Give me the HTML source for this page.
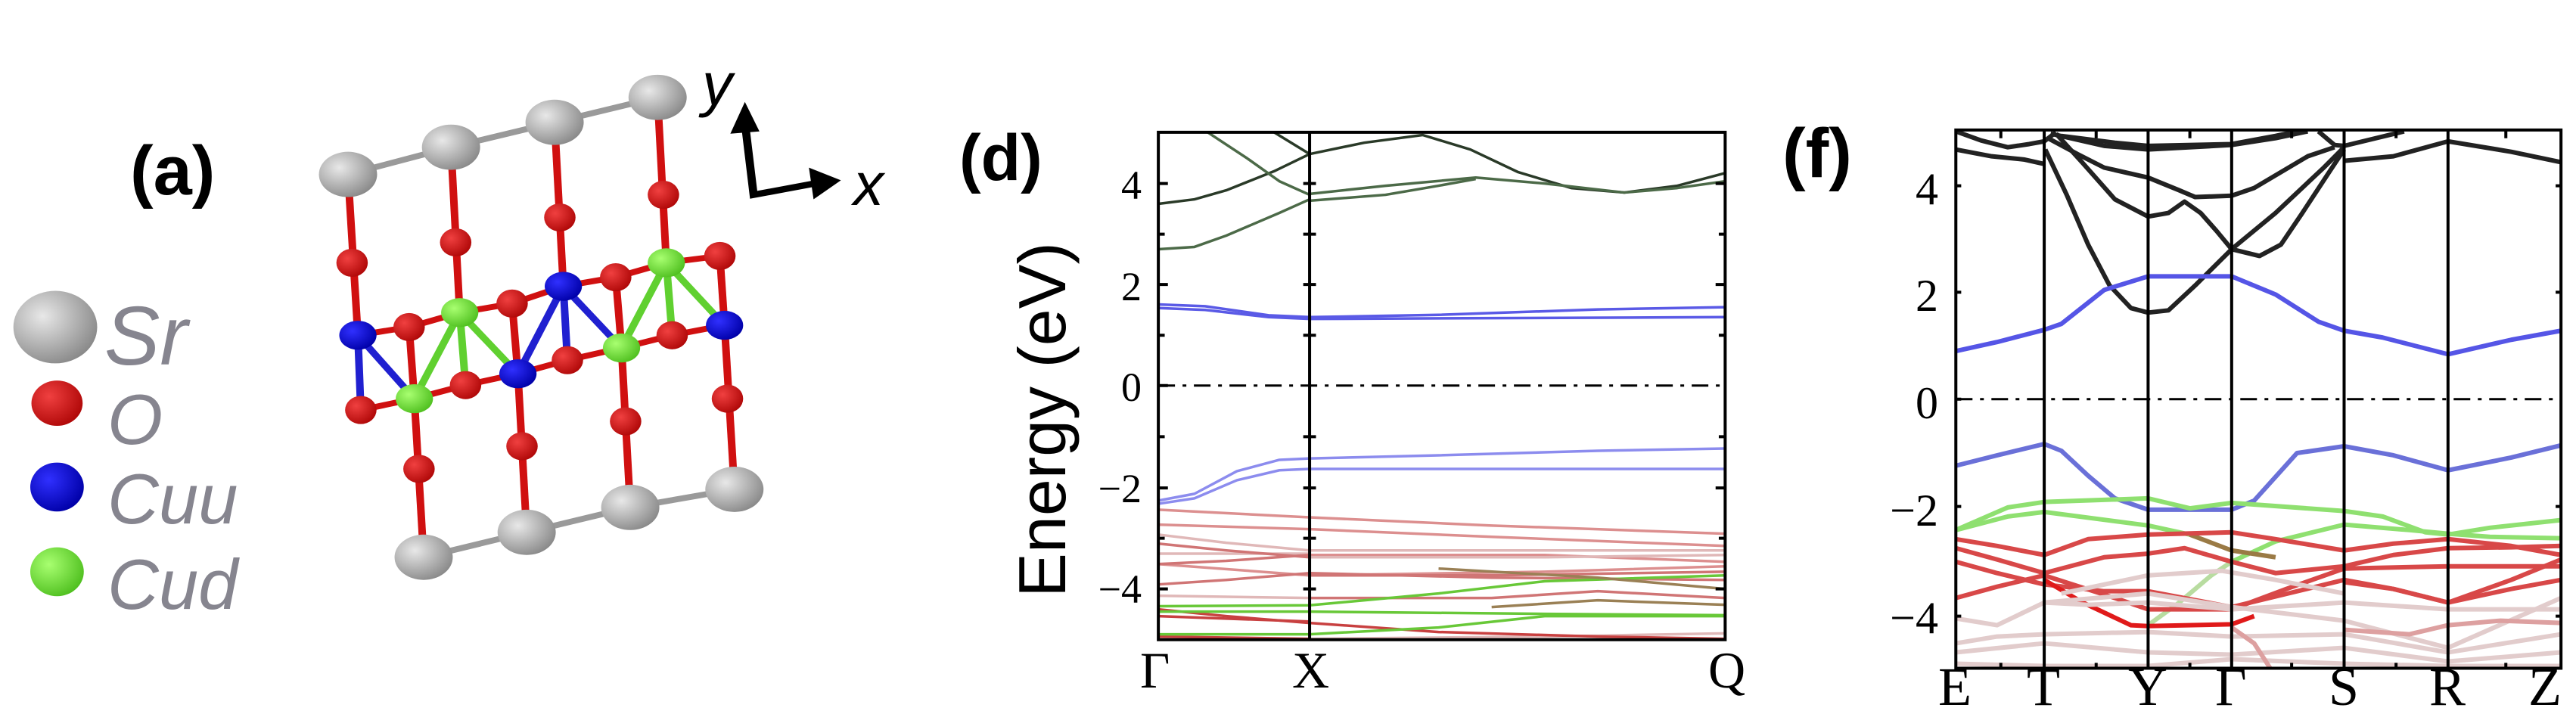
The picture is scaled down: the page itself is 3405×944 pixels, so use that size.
<!DOCTYPE html>
<html><head><meta charset="utf-8"><style>
html,body{margin:0;padding:0;background:#fff;}
#c{position:relative;width:3405px;height:944px;overflow:hidden;background:#fff;}
svg{position:absolute;}
.t{position:absolute;white-space:nowrap;line-height:1;}
.ser{font-family:"Liberation Serif",serif;color:#000;}
.b{font-family:"Liberation Sans",sans-serif;font-weight:bold;color:#000;}
.lg{font-family:"Liberation Sans",sans-serif;font-style:italic;color:#86858f;}
</style></head><body><div id="c">

<!-- Panel a -->
<svg style="left:0;top:0" width="1200" height="944" viewBox="0 0 1560 1576" preserveAspectRatio="none">
<defs>
<radialGradient id="gs" cx="0.35" cy="0.35" r="0.7"><stop offset="0" stop-color="#e8e8e8"/><stop offset="1" stop-color="#8a8a8a"/></radialGradient>
<radialGradient id="go" cx="0.35" cy="0.35" r="0.7"><stop offset="0" stop-color="#f04040"/><stop offset="1" stop-color="#b00808"/></radialGradient>
<radialGradient id="gb" cx="0.35" cy="0.35" r="0.7"><stop offset="0" stop-color="#3030ff"/><stop offset="1" stop-color="#0000a8"/></radialGradient>
<radialGradient id="gg" cx="0.35" cy="0.35" r="0.7"><stop offset="0" stop-color="#a8ff70"/><stop offset="1" stop-color="#50c020"/></radialGradient>
</defs>
<g stroke-width="13" fill="none">
<polyline points="598,385 775,325 953,270 1130,215" stroke="#9a9a9a"/>
<polyline points="728,1230 905,1175 1083,1120 1262,1080" stroke="#9a9a9a"/>
<line x1="598" y1="385" x2="615" y2="740" stroke="#d01010"/>
<line x1="775" y1="325" x2="790" y2="690" stroke="#d01010"/>
<line x1="953" y1="270" x2="968" y2="632" stroke="#d01010"/>
<line x1="1130" y1="215" x2="1145" y2="580" stroke="#d01010"/>
<line x1="712" y1="880" x2="728" y2="1230" stroke="#d01010"/>
<line x1="890" y1="825" x2="905" y2="1175" stroke="#d01010"/>
<line x1="1068" y1="768" x2="1083" y2="1120" stroke="#d01010"/>
<line x1="1245" y1="718" x2="1262" y2="1080" stroke="#d01010"/>
<line x1="703" y1="722" x2="712" y2="880" stroke="#d01010"/>
<line x1="880" y1="670" x2="890" y2="825" stroke="#d01010"/>
<line x1="1058" y1="612" x2="1068" y2="768" stroke="#d01010"/>
<line x1="1237" y1="565" x2="1245" y2="718" stroke="#d01010"/>
<line x1="615" y1="740" x2="620" y2="905" stroke="#2020d0"/>
<line x1="790" y1="690" x2="800" y2="850" stroke="#60d030"/>
<line x1="968" y1="632" x2="975" y2="795" stroke="#2020d0"/>
<line x1="1145" y1="580" x2="1155" y2="740" stroke="#60d030"/>
<polyline points="615,740 703,722 790,690 880,670 968,632 1058,612 1145,580 1237,565" stroke="#d01010"/>
<polyline points="620,905 712,880 800,850 890,825 975,795 1068,768 1155,740 1245,718" stroke="#d01010"/>
<line x1="615" y1="740" x2="712" y2="880" stroke="#2020d0"/>
<line x1="790" y1="690" x2="712" y2="880" stroke="#60d030"/>
<line x1="790" y1="690" x2="890" y2="825" stroke="#60d030"/>
<line x1="968" y1="632" x2="890" y2="825" stroke="#2020d0"/>
<line x1="968" y1="632" x2="1068" y2="768" stroke="#2020d0"/>
<line x1="1145" y1="580" x2="1068" y2="768" stroke="#60d030"/>
<line x1="1145" y1="580" x2="1245" y2="718" stroke="#60d030"/>
</g>
<g fill="url(#gs)">
<circle cx="598" cy="385" r="50"/><circle cx="775" cy="325" r="50"/><circle cx="953" cy="270" r="50"/><circle cx="1130" cy="215" r="50"/>
<circle cx="728" cy="1230" r="50"/><circle cx="905" cy="1175" r="50"/><circle cx="1083" cy="1120" r="50"/><circle cx="1262" cy="1080" r="50"/>
</g>
<g fill="url(#go)">
<ellipse cx="605" cy="580" rx="27" ry="31"/><ellipse cx="783" cy="535" rx="27" ry="31"/><ellipse cx="962" cy="480" rx="27" ry="31"/><ellipse cx="1140" cy="430" rx="27" ry="31"/>
<ellipse cx="720" cy="1035" rx="27" ry="31"/><ellipse cx="897" cy="985" rx="27" ry="31"/><ellipse cx="1075" cy="930" rx="27" ry="31"/><ellipse cx="1250" cy="880" rx="27" ry="31"/>
<ellipse cx="703" cy="722" rx="27" ry="31"/><ellipse cx="880" cy="670" rx="27" ry="31"/><ellipse cx="1058" cy="612" rx="27" ry="31"/><ellipse cx="1237" cy="565" rx="27" ry="31"/>
<ellipse cx="620" cy="905" rx="27" ry="31"/><ellipse cx="800" cy="850" rx="27" ry="31"/><ellipse cx="975" cy="795" rx="27" ry="31"/><ellipse cx="1155" cy="740" rx="27" ry="31"/>
</g>
<g fill="url(#gb)"><circle cx="615" cy="740" r="32"/><circle cx="968" cy="632" r="32"/><circle cx="890" cy="825" r="32"/><circle cx="1245" cy="718" r="32"/></g>
<g fill="url(#gg)"><circle cx="790" cy="690" r="32"/><circle cx="1145" cy="580" r="32"/><circle cx="712" cy="880" r="32"/><circle cx="1068" cy="768" r="32"/></g>
<ellipse cx="95" cy="722" rx="72" ry="80" fill="url(#gs)"/>
<ellipse cx="98" cy="890" rx="44" ry="50" fill="url(#go)"/>
<ellipse cx="98" cy="1075" rx="46" ry="54" fill="url(#gb)"/>
<ellipse cx="98" cy="1262" rx="46" ry="54" fill="url(#gg)"/>
<g stroke="#000" stroke-width="14" fill="none">
<polyline points="1280,270 1295,430 1400,405"/>
</g>
<polygon points="1280,225 1255,295 1305,290" fill="#000"/>
<polygon points="1445,398 1390,370 1398,440" fill="#000"/>
</svg>
<div class="t b" style="left:172px;top:180px;font-size:92px;">(a)</div>
<div class="t lg" style="left:138px;top:390px;font-size:110px;">Sr</div>
<div class="t lg" style="left:142px;top:508px;font-size:94px;">O</div>
<div class="t lg" style="left:142px;top:613px;font-size:94px;">Cuu</div>
<div class="t lg" style="left:142px;top:726px;font-size:94px;">Cud</div>
<div class="t lg" style="left:928px;top:72px;font-size:80px;color:#000;">y</div>
<div class="t lg" style="left:1128px;top:204px;font-size:80px;color:#000;">x</div>

<!-- Panel d -->
<svg style="left:1200px;top:0" width="1100" height="944" viewBox="0 0 1568 1576" preserveAspectRatio="none">
<g fill="none" stroke-width="3.5" vector-effect="non-scaling-stroke" stroke-linejoin="round">
<g stroke="#2a3a28">
<polyline vector-effect="non-scaling-stroke" points="472,450 540,440 600,420 690,378 757,340"/>
<polyline vector-effect="non-scaling-stroke" points="690,292 757,340"/>
<polyline vector-effect="non-scaling-stroke" points="757,340 860,315 970,298 1060,330 1150,380 1250,415 1350,425 1450,410 1540,382"/>
</g>
<g stroke="#4c6a48">
<polyline vector-effect="non-scaling-stroke" points="472,550 540,545 600,520 700,470 757,440"/>
<polyline vector-effect="non-scaling-stroke" points="565,292 640,350 700,400 757,430"/>
<polyline vector-effect="non-scaling-stroke" points="757,428 900,410 1070,392 1200,405 1350,425 1450,415 1540,400"/>
<polyline vector-effect="non-scaling-stroke" points="757,443 900,430 1000,410 1070,395"/>
</g>
<g stroke="#5a5ae6">
<polyline vector-effect="non-scaling-stroke" points="472,672 560,676 680,696 757,700 1000,695 1300,683 1540,678"/>
<polyline vector-effect="non-scaling-stroke" points="472,680 560,684 680,700 757,704 1540,700"/>
</g>
<g stroke="#8c8cee">
<polyline vector-effect="non-scaling-stroke" points="472,1105 540,1090 620,1040 700,1015 757,1012 1000,1005 1300,995 1540,990"/>
<polyline vector-effect="non-scaling-stroke" points="472,1112 540,1100 620,1060 700,1038 757,1035 1540,1035"/>
</g>
<g stroke="#dc8f8f">
<polyline vector-effect="non-scaling-stroke" points="472,1125 757,1142 1100,1160 1540,1178"/>
<polyline vector-effect="non-scaling-stroke" points="472,1158 757,1168 1100,1185 1540,1205"/>
<polyline vector-effect="non-scaling-stroke" points="757,1225 1200,1225 1540,1240"/>
<polyline vector-effect="non-scaling-stroke" points="472,1245 757,1270 1200,1262 1540,1250"/>
</g>
<g stroke="#e0b8b8">
<polyline vector-effect="non-scaling-stroke" points="472,1180 600,1198 757,1215 1540,1215"/>
<polyline vector-effect="non-scaling-stroke" points="472,1222 757,1222"/>
<polyline vector-effect="non-scaling-stroke" points="757,1230 1200,1230 1540,1225"/>
<polyline vector-effect="non-scaling-stroke" points="472,1315 757,1320"/>
<polyline vector-effect="non-scaling-stroke" points="757,1410 1200,1405 1540,1398"/>
</g>
<g stroke="#d07575">
<polyline vector-effect="non-scaling-stroke" points="472,1200 600,1215 757,1230"/>
<polyline vector-effect="non-scaling-stroke" points="472,1245 600,1238 757,1225"/>
<polyline vector-effect="non-scaling-stroke" points="472,1290 600,1280 757,1265 1100,1275 1540,1280"/>
<polyline vector-effect="non-scaling-stroke" points="757,1320 1100,1320 1300,1305 1540,1320"/>
<polyline vector-effect="non-scaling-stroke" points="757,1270 1100,1270 1540,1262"/>
</g>
<g stroke="#c84040">
<polyline vector-effect="non-scaling-stroke" points="472,1345 600,1360 757,1375 1000,1395 1300,1405 1540,1410"/>
<polyline vector-effect="non-scaling-stroke" points="472,1360 757,1372"/>
<polyline vector-effect="non-scaling-stroke" points="472,1405 757,1410"/>
</g>
<g stroke="#68c838">
<polyline vector-effect="non-scaling-stroke" points="472,1338 757,1336 1000,1310 1200,1283 1540,1270"/>
<polyline vector-effect="non-scaling-stroke" points="472,1350 757,1350 1200,1355 1540,1358"/>
<polyline vector-effect="non-scaling-stroke" points="472,1400 757,1400 1000,1385 1200,1360 1540,1360"/>
</g>
<g stroke="#9a8055">
<polyline vector-effect="non-scaling-stroke" points="1000,1255 1300,1275 1540,1300"/>
<polyline vector-effect="non-scaling-stroke" points="1100,1340 1300,1325 1540,1335"/>
</g>
</g>
<line x1="472" y1="851" x2="1540" y2="851" stroke="#000" stroke-width="3" vector-effect="non-scaling-stroke" stroke-dasharray="22 10 5 10"/>
<g stroke="#000" stroke-width="4" vector-effect="non-scaling-stroke" fill="none">
<rect x="472" y="292" width="1068" height="1120" vector-effect="non-scaling-stroke"/>
<line x1="757" y1="292" x2="757" y2="1412" vector-effect="non-scaling-stroke"/>
<path vector-effect="non-scaling-stroke" d="M472 405h18M472 517h12M472 628h18M472 740h12M472 851h18M472 964h12M472 1077h18M472 1188h12M472 1300h18
M1540 405h-18M1540 517h-12M1540 628h-18M1540 740h-12M1540 964h-12M1540 1077h-18M1540 1188h-12M1540 1300h-18
M745 405h24M745 517h24M745 628h24M745 740h24M745 964h24M745 1077h24M745 1188h24M745 1300h24"/>
</g>
</svg>
<div class="t b" style="left:1268px;top:166px;font-size:86px;">(d)</div>
<div class="t ser" style="right:1896px;top:218px;font-size:54px;">4</div>
<div class="t ser" style="right:1896px;top:352px;font-size:54px;">2</div>
<div class="t ser" style="right:1896px;top:485px;font-size:54px;">0</div>
<div class="t ser" style="right:1896px;top:619px;font-size:54px;">−2</div>
<div class="t ser" style="right:1896px;top:752px;font-size:54px;">−4</div>
<div class="t ser" style="left:1507px;top:852px;font-size:68px;">Γ</div>
<div class="t ser" style="left:1708px;top:852px;font-size:68px;">X</div>
<div class="t ser" style="left:2258px;top:852px;font-size:68px;">Q</div>
<div class="t" style="left:1378px;top:555px;font-family:'Liberation Sans',sans-serif;font-size:88px;transform:translate(-50%,-50%) rotate(-90deg);">Energy (eV)</div>

<!-- Panel f -->
<svg style="left:2300px;top:0" width="1105" height="944" viewBox="0 0 1561 1576" preserveAspectRatio="none">
<g fill="none" stroke-width="6" stroke-linejoin="round">
<g stroke="#222">
<polyline vector-effect="non-scaling-stroke" points="403,290 450,310 500,325 540,318 568,312 590,292"/>
<polyline vector-effect="non-scaling-stroke" points="403,330 470,345 530,352 568,362"/>
<polyline vector-effect="non-scaling-stroke" points="580,295 680,322 762,330 918,320 1000,305 1060,290"/>
<polyline vector-effect="non-scaling-stroke" points="600,300 700,315 762,322 918,318 1000,300 1040,290"/>
<polyline vector-effect="non-scaling-stroke" points="570,330 610,430 650,540 690,630 730,680 762,690 800,685 850,630 918,550 1000,470 1090,370 1128,325"/>
<polyline vector-effect="non-scaling-stroke" points="575,305 630,340 680,370 762,392 820,420 850,435 918,432 960,415 1060,345 1110,325"/>
<polyline vector-effect="non-scaling-stroke" points="590,295 640,360 700,440 762,478 800,470 830,445 860,470 890,510 918,550 970,565 1010,540 1050,470 1100,380 1128,330"/>
<polyline vector-effect="non-scaling-stroke" points="1080,290 1110,320 1128,322 1240,290"/>
<polyline vector-effect="non-scaling-stroke" points="1128,355 1220,345 1322,312 1440,335 1533,358"/>
</g>
<polyline vector-effect="non-scaling-stroke" stroke="#5555e6" points="403,775 480,755 568,728 600,715 680,640 762,610 918,610 1000,650 1080,710 1128,730 1200,745 1322,782 1440,750 1533,730"/>
<polyline vector-effect="non-scaling-stroke" stroke="#6a70d8" points="403,1028 480,1005 568,980 600,995 650,1050 700,1100 762,1125 918,1125 960,1105 1040,1000 1128,985 1220,1005 1322,1038 1440,1010 1533,983"/>
<g stroke="#8fe070">
<polyline vector-effect="non-scaling-stroke" points="403,1170 500,1120 568,1108 762,1100 840,1122 918,1110 1128,1128 1200,1140 1280,1175 1322,1180 1400,1165 1533,1148"/>
<polyline vector-effect="non-scaling-stroke" points="403,1170 500,1140 568,1130 762,1160 840,1180"/>
<polyline vector-effect="non-scaling-stroke" points="918,1240 1000,1195 1128,1158 1250,1170 1322,1178 1400,1185 1533,1188"/>
<polyline vector-effect="non-scaling-stroke" stroke="#b8dca0" points="762,1380 820,1330 880,1270 918,1240"/>
</g>
<polyline vector-effect="non-scaling-stroke" stroke="#9a7a45" points="840,1180 918,1215 1000,1230"/>
<g stroke="#d84848">
<polyline vector-effect="non-scaling-stroke" points="403,1190 480,1205 568,1225 650,1190 762,1180 918,1175 1000,1190 1128,1215 1220,1200 1322,1190 1440,1205 1533,1225"/>
<polyline vector-effect="non-scaling-stroke" points="403,1210 480,1235 568,1265 680,1230 762,1222 830,1210 918,1240 1000,1265 1128,1250 1220,1225 1322,1210 1440,1208 1533,1205"/>
<polyline vector-effect="non-scaling-stroke" points="403,1240 480,1265 568,1290 680,1305 762,1305 918,1340 1128,1280 1220,1300 1322,1330 1440,1300 1533,1280"/>
<polyline vector-effect="non-scaling-stroke" points="403,1320 480,1295 568,1270 700,1320 762,1345 918,1345 1020,1300 1128,1255 1322,1250 1533,1250"/>
<polyline vector-effect="non-scaling-stroke" points="1128,1285 1220,1300 1322,1330 1440,1280 1533,1235"/>
<polyline vector-effect="non-scaling-stroke" stroke="#e01a1a" points="568,1280 640,1330 730,1380 762,1382 918,1378 960,1360"/>
</g>
<g stroke="#e2cccc">
<polyline vector-effect="non-scaling-stroke" points="403,1365 480,1380 568,1330 762,1310 918,1340 1128,1370 1322,1430 1533,1320"/>
<polyline vector-effect="non-scaling-stroke" points="403,1420 480,1405 568,1400 762,1395 918,1405 1128,1400 1322,1440 1533,1400"/>
<polyline vector-effect="non-scaling-stroke" points="568,1330 650,1335 762,1330 918,1345 1128,1330 1322,1345 1533,1345"/>
<polyline vector-effect="non-scaling-stroke" points="403,1440 568,1420 762,1440 918,1445 1128,1430 1322,1460 1533,1440"/>
<polyline vector-effect="non-scaling-stroke" points="600,1310 762,1270 900,1260 1000,1280 1128,1310"/>
<polyline vector-effect="non-scaling-stroke" points="403,1465 568,1470 762,1470 918,1455 1128,1465 1322,1470 1533,1470"/>
<polyline vector-effect="non-scaling-stroke" stroke="#dda0a0" points="918,1385 960,1420 990,1475"/>
<polyline vector-effect="non-scaling-stroke" stroke="#dda0a0" points="1128,1390 1250,1400 1322,1380 1420,1370 1533,1375"/>
</g>
</g>
<line x1="403" y1="881" x2="1533" y2="881" stroke="#000" stroke-width="3" vector-effect="non-scaling-stroke" stroke-dasharray="22 10 5 10"/>
<g stroke="#000" stroke-width="4" fill="none">
<rect x="403" y="287" width="1130" height="1188" vector-effect="non-scaling-stroke"/>
<path vector-effect="non-scaling-stroke" d="M568 287V1475M762 287V1475M918 287V1475M1128 287V1475M1322 287V1475"/>
<path vector-effect="non-scaling-stroke" d="M403 410h10M403 645h10M403 881h10M403 1118h10M403 1360h10M1533 410h-10M1533 645h-10M1533 1118h-10M1533 1360h-10M487 287v18M665 287v18M840 287v18M1030 287v18M1225 287v18M1430 287v18M487 1475v-12M665 1475v-12M840 1475v-12M1030 1475v-12M1225 1475v-12M1430 1475v-12"/>
</g>
</svg>
<div class="t b" style="left:2356px;top:157px;font-size:92px;">(f)</div>
<div class="t ser" style="right:843px;top:220px;font-size:60px;">4</div>
<div class="t ser" style="right:843px;top:361px;font-size:60px;">2</div>
<div class="t ser" style="right:843px;top:503px;font-size:60px;">0</div>
<div class="t ser" style="right:843px;top:645px;font-size:60px;">−2</div>
<div class="t ser" style="right:843px;top:787px;font-size:60px;">−4</div>
<div class="t ser" style="left:2562px;top:872px;font-size:72px;">E</div>
<div class="t ser" style="left:2679px;top:872px;font-size:72px;">T</div>
<div class="t ser" style="left:2813px;top:872px;font-size:72px;">Y</div>
<div class="t ser" style="left:2928px;top:872px;font-size:72px;">Γ</div>
<div class="t ser" style="left:3078px;top:872px;font-size:72px;">S</div>
<div class="t ser" style="left:3211px;top:872px;font-size:72px;">R</div>
<div class="t ser" style="left:3342px;top:872px;font-size:72px;">Z</div>
</div></body></html>
